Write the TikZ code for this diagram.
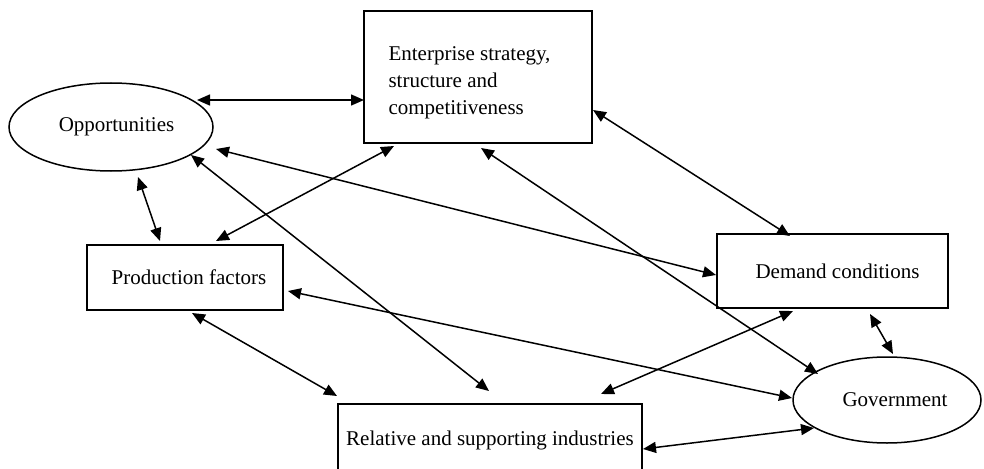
\documentclass[tikz,border=0pt]{standalone}
\usepackage{fontspec}
\setmainfont{Liberation Serif}
\usetikzlibrary{arrows.meta,shapes.geometric,calc}
\tikzset{
  boxnode/.style={draw, rectangle, line width=2pt, inner sep=0pt, font=\fontsize{21}{27}\selectfont},
  ellnode/.style={draw, ellipse, line width=1.5pt, inner sep=0pt, font=\fontsize{21}{27}\selectfont},
  link/.style={line width=1.5pt, {Triangle[length=13pt,width=11pt]}-{Triangle[length=13pt,width=11pt]}}
}
\begin{document}
\begin{tikzpicture}[x=1pt,y=-1pt]
\clip (0,0) rectangle (984,468);
\fill[white] (0,0) rectangle (984,468);
% nodes
\node[ellnode, minimum width=204pt, minimum height=88pt] (opp) at (111,127) {\hspace*{11pt}Opportunities};
\node[boxnode, minimum width=228pt, minimum height=132pt] (ent) at (478,77) {};
\node[anchor=west, align=left, font=\fontsize{21}{27}\selectfont] (enttext) at (385,83) {Enterprise strategy,\\structure and\\competitiveness};
\node[boxnode, minimum width=196pt, minimum height=65pt] (prod) at (185,277.5) {\hspace*{8pt}Production factors};
\node[boxnode, minimum width=231pt, minimum height=74pt] (dem) at (832.5,271) {\hspace*{10pt}Demand conditions};
\node[boxnode, minimum width=304pt, minimum height=72pt] (rel) at (490,440) {Relative and supporting industries};
\node[ellnode, minimum width=188pt, minimum height=86pt] (gov) at (887,400) {\hspace*{16pt}Government};
% connectors
\draw[link] ($(opp)+(86,-27)$) -- ($(ent)+(-114,23)$);
\draw[link] ($(opp)+(105,22)$) -- ($(dem)+(-116.5,4)$);
\draw[link] ($(opp)+(80,28)$) -- ($(rel)+(-1,-49)$);
\draw[link] ($(opp)+(27,50)$) -- ($(prod)+(-25,-36.5)$);
\draw[link] ($(ent)+(-84,69)$) -- ($(prod)+(31,-36.5)$);
\draw[link] ($(ent)+(115,33)$) -- ($(dem)+(-42.5,-35)$);
\draw[link] ($(ent)+(3,71)$) -- ($(gov)+(-69,-26)$);
\draw[link] ($(prod)+(103,13.5)$) -- ($(gov)+(-95,-2)$);
\draw[link] ($(prod)+(7,35.5)$) -- ($(rel)+(-153,-44)$);
\draw[link] ($(rel)+(111,-46)$) -- ($(dem)+(-39.5,40)$);
\draw[link] ($(rel)+(153,9)$) -- ($(gov)+(-73,28)$);
\draw[link] ($(dem)+(37.5,43)$) -- ($(gov)+(6,-46)$);
\end{tikzpicture}
\end{document}
